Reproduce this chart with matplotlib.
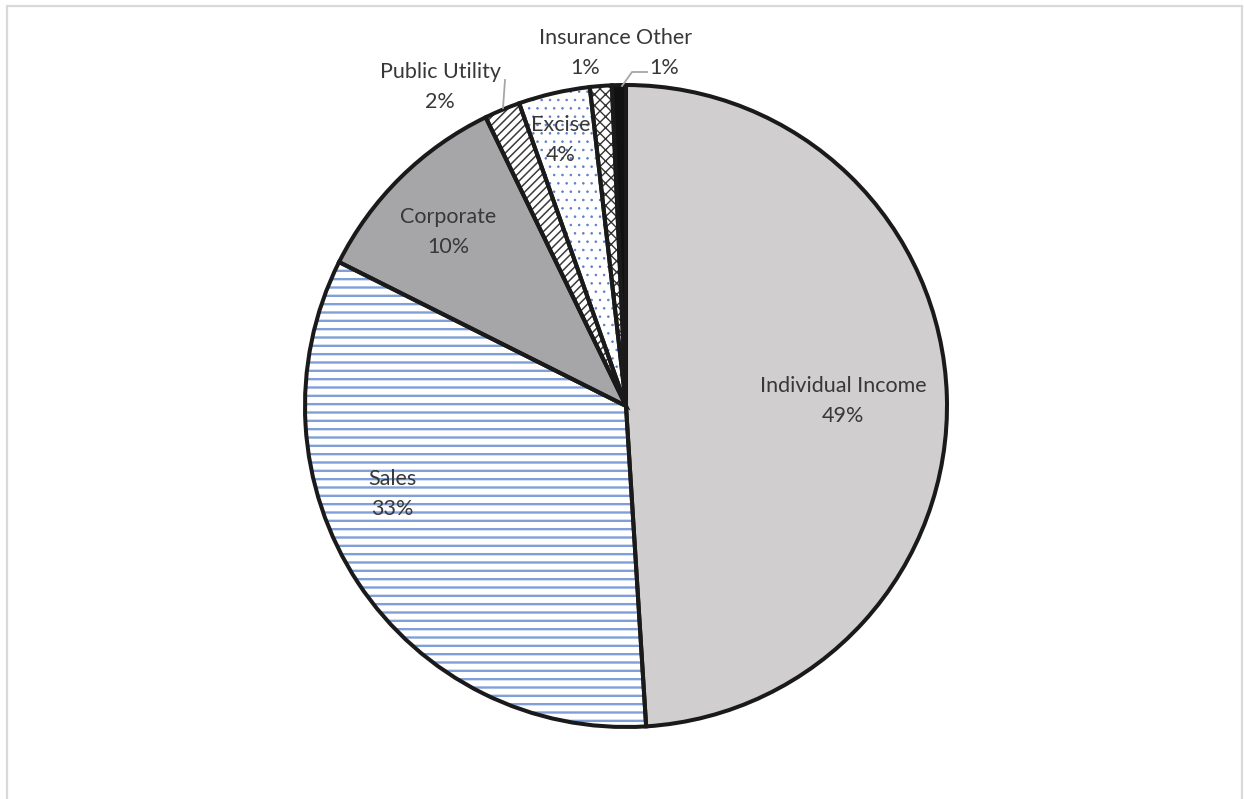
import matplotlib
matplotlib.use("Agg")
import matplotlib.pyplot as plt
import numpy as np
from matplotlib.patches import Rectangle

# ---- data ----
categories = ["Individual Income", "Sales", "Corporate", "Public Utility", "Excise", "Insurance", "Other"]
values = [49.0, 33.4, 10.4, 1.8, 3.6, 1.1, 0.7]
pct_labels = ["49%", "33%", "10%", "2%", "4%", "1%", "1%"]

# ---- styles ----
face_colors = ["#D0CECE", "white", "#A6A6A9", "white", "white", "white", "#111111"]
hatches = [None, "--", None, "////", "..", "xxx", None]
hatch_colors = ["#D0CECE", "#7F9FD6", "#A6A6A9", "#3A3A3A", "#5A80C8", "#333333", "#111111"]
hatch_widths = [1.0, 1.7, 1.0, 1.1, 0.6, 1.0, 1.0]

W, H = 1244, 799
plt.rcParams['hatch.linewidth'] = 1.2
fig = plt.figure(figsize=(W / 100, H / 100), dpi=100)
ax = fig.add_axes([0, 0, 1, 1])

# chart frame
fig.patches.append(Rectangle((7 / W, -0.05), (1242 - 7) / W, (H - 6) / H + 0.05,
                             transform=fig.transFigure, fill=False,
                             edgecolor="#D9D9D9", lw=1.6, zorder=0))

center = (626, H - 406)
radius = 321

# fills with hatches
wedges, _ = ax.pie(values, startangle=90, counterclock=False, center=center,
                   radius=radius, frame=True)
for w, fc, hc, ht, hw in zip(wedges, face_colors, hatch_colors, hatches, hatch_widths):
    w.set_facecolor(fc)
    w.set_edgecolor(hc)
    w.set_linewidth(0)
    if ht:
        w.set_hatch(ht)
        if hasattr(w, "set_hatch_linewidth"):
            w.set_hatch_linewidth(hw)
        else:
            w._hatch_linewidth = hw

# outlines
ax.pie(values, startangle=90, counterclock=False, center=center,
       radius=radius, frame=True,
       wedgeprops=dict(fill=False, edgecolor="#1A1A1A", linewidth=2.9))
ax.set_xlim(0, W)
ax.set_ylim(0, H)
ax.set_aspect("equal")
ax.axis("off")

# labels (pixel positions, y from top)
label_pos = [(843, 401), (392, 494), (448, 232), (440, 87), (561, 140), (585, 53), (664, 53)]
for name, pct, (x, y) in zip(categories, pct_labels, label_pos):
    ax.text(x, H - y, f"{name}\n{pct}", ha="center", va="center",
            fontsize=15.5, family="Lato", color="#383838", linespacing=1.62)

# leader lines
ax.plot([505, 503], [H - 80, H - 108], color="#A6A6A6", lw=1.3)
ax.plot([647, 632, 622], [H - 72, H - 72, H - 86], color="#A6A6A6", lw=1.3)

fig.savefig("out.png", dpi=100)
